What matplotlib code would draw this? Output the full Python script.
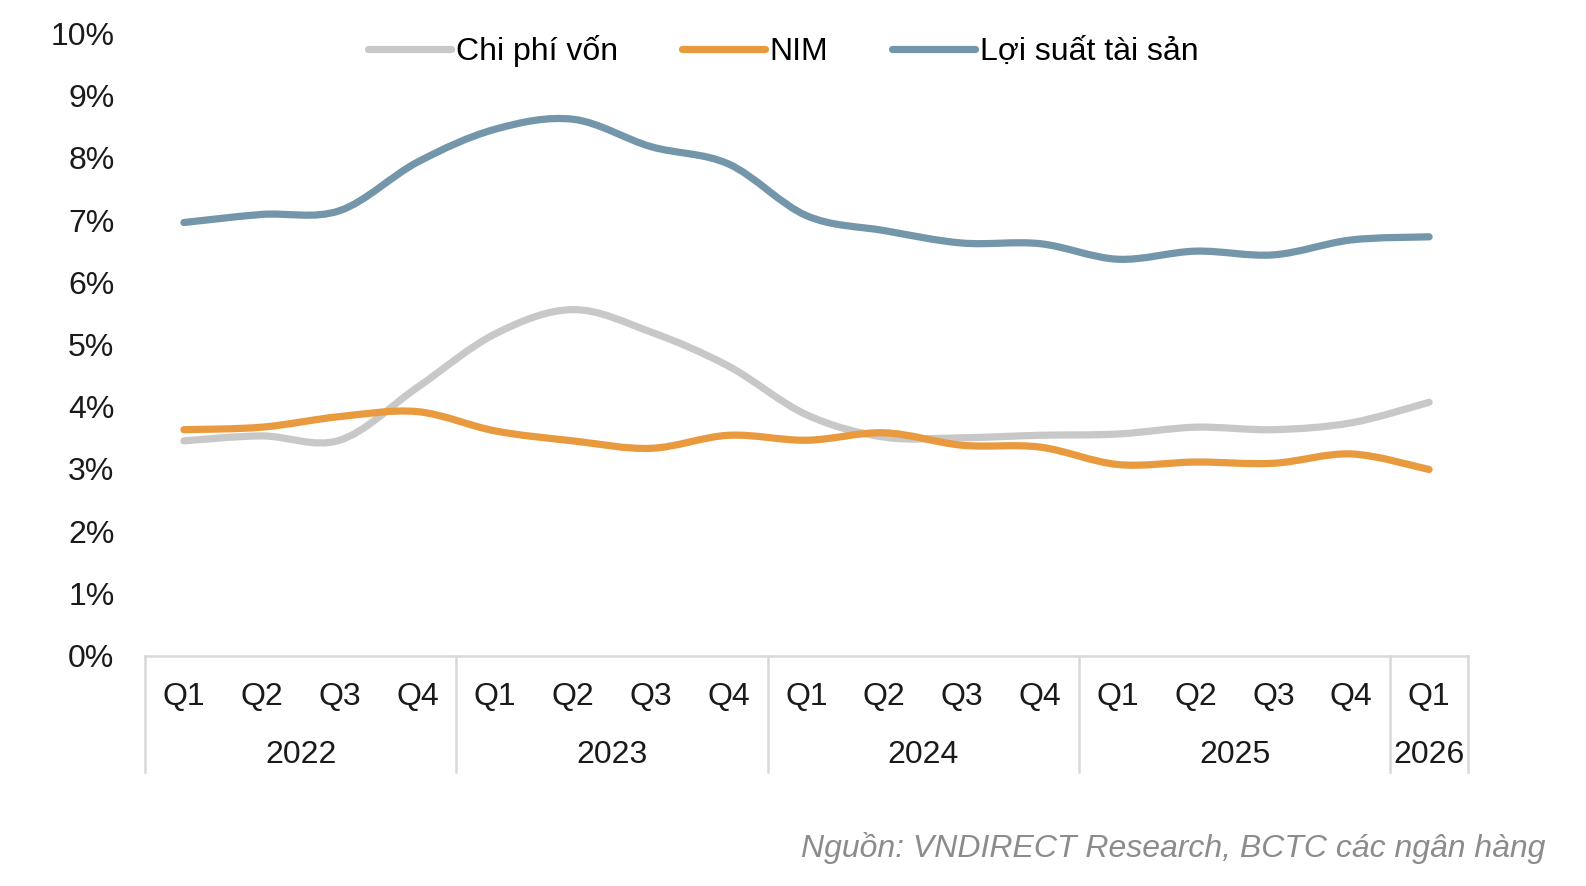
import matplotlib.pyplot as plt
from matplotlib.path import Path
from matplotlib.patches import PathPatch
from matplotlib.lines import Line2D

plt.rcParams['font.family'] = ['Liberation Sans', 'DejaVu Sans']

quarters = ["Q1", "Q2", "Q3", "Q4"] * 4 + ["Q1"]
years = ["2022", "2023", "2024", "2025", "2026"]
year_sizes = [4, 4, 4, 4, 1]

chi_phi_von = [3.45, 3.53, 3.46, 4.31, 5.17, 5.56, 5.20, 4.65, 3.87, 3.51, 3.50, 3.54, 3.56, 3.67, 3.63, 3.74, 4.07]
nim = [3.63, 3.67, 3.84, 3.92, 3.61, 3.45, 3.33, 3.54, 3.46, 3.58, 3.38, 3.35, 3.07, 3.11, 3.09, 3.24, 2.99]
loi_suat = [6.96, 7.09, 7.15, 7.93, 8.46, 8.62, 8.18, 7.90, 7.07, 6.83, 6.63, 6.62, 6.37, 6.50, 6.44, 6.68, 6.73]

names = ["Chi phí vốn", "NIM", "Lợi suất tài sản"]
colors = ["#c8c8c8", "#e99a3f", "#7496aa"]
FS = 23


def smooth_path(ys):
    # catmull-rom style bezier, like excel's smoothed line
    n = len(ys)
    pts = [(i, y) for i, y in enumerate(ys)]
    verts = [pts[0]]
    codes = [Path.MOVETO]
    for i in range(n - 1):
        p0 = pts[max(i - 1, 0)]
        p1 = pts[i]
        p2 = pts[i + 1]
        p3 = pts[min(i + 2, n - 1)]
        c1 = (p1[0] + (p2[0] - p0[0]) / 6, p1[1] + (p2[1] - p0[1]) / 6)
        c2 = (p2[0] - (p3[0] - p1[0]) / 6, p2[1] - (p3[1] - p1[1]) / 6)
        verts += [c1, c2, p2]
        codes += [Path.CURVE4] * 3
    return Path(verts, codes)


fig = plt.figure(figsize=(15.86, 8.86), dpi=100)
ax = fig.add_axes([145 / 1586, 1 - 655.5 / 886, (1468 - 145) / 1586, (655.5 - 33.4) / 886])

for ys, c in zip([chi_phi_von, nim, loi_suat], colors):
    ax.add_patch(PathPatch(smooth_path(ys), facecolor="none", edgecolor=c,
                           lw=5.2, capstyle="round", joinstyle="round"))

ax.set_xlim(-0.5, 16.5)
ax.set_ylim(0, 10)
ax.set_yticks(range(0, 11))
ax.set_yticklabels([f"{v}%" for v in range(0, 11)])
ax.tick_params(axis="y", length=0, pad=22, labelsize=FS, labelcolor="#1a1a1a")
ax.set_xticks([])
for s in ["top", "right", "left"]:
    ax.spines[s].set_visible(False)
ax.spines["bottom"].set_color("#d9d9d9")
ax.spines["bottom"].set_linewidth(1.8)

tr = ax.get_xaxis_transform()
for i, q in enumerate(quarters):
    ax.text(i, -0.066, q, transform=tr, ha="center", va="center", fontsize=FS, color="#1a1a1a")

start = 0
seps = [-0.5]
for y, sz in zip(years, year_sizes):
    ax.text(start + (sz - 1) / 2, -0.16, y, transform=tr, ha="center", va="center",
            fontsize=FS, color="#1a1a1a")
    start += sz
    seps.append(start - 0.5)
for s in seps:
    ax.plot([s, s], [0, -0.187], transform=tr, color="#d9d9d9", lw=1.8, clip_on=False)

handles = [Line2D([], [], color=c, lw=5.2, solid_capstyle="round") for c in colors]
fig.legend(handles, names, loc="center", bbox_to_anchor=(783 / 1586, 1 - 51 / 886), ncol=3,
           frameon=False, fontsize=FS, handlelength=2.6, handletextpad=0.15, columnspacing=2.0)

fig.text(1545 / 1586, 1 - 848 / 886, "Nguồn: VNDIRECT Research, BCTC các ngân hàng",
         ha="right", va="center", fontsize=FS, style="italic", color="#8c8c8c")

fig.savefig("out.png", dpi=100)
